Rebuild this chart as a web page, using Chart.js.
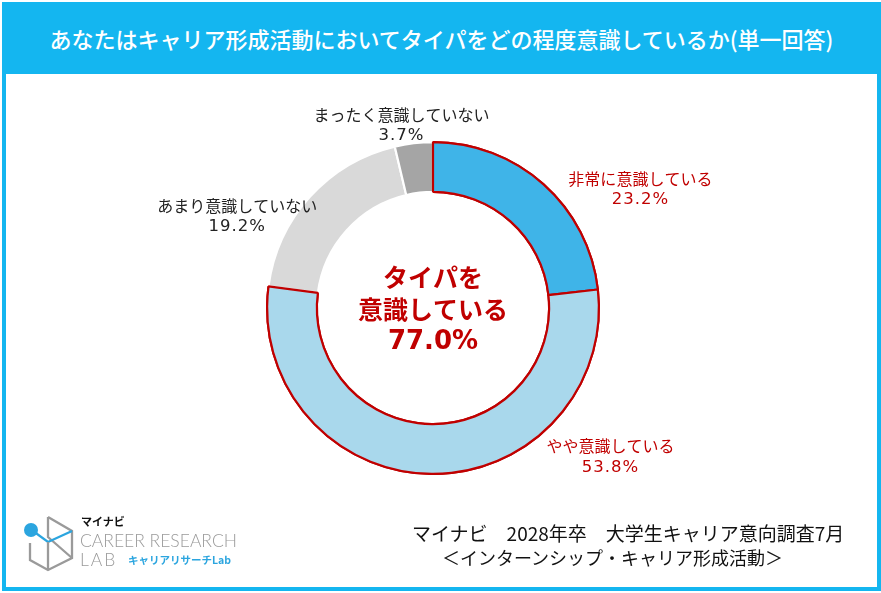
<!DOCTYPE html>
<html lang="ja">
<head>
<meta charset="utf-8">
<script src="https://cdn.jsdelivr.net/npm/chart.js@4.4.1/dist/chart.umd.min.js"></script>
<style>
  html, body { margin: 0; padding: 0; background: #fff; }
  body { width: 881px; height: 593px; position: relative; overflow: hidden;
         font-family: "Noto Sans CJK JP", "Noto Sans", sans-serif; }
  #frame { position: absolute; left: 2px; top: 2px; width: 871px; height: 581px;
           border: 4px solid #14B6F0; box-sizing: content-box; }
  #header { position: absolute; left: 2px; top: 2px; width: 879px; height: 72px;
            background: #14B6F0; color: #fff; font-size: 22px; font-weight: 500;
            text-align: center; line-height: 72px; }
  #chart { position: absolute; left: 0; top: 0; }
  #source { position: absolute; left: 400px; top: 520px; width: 470px;
            color: #111; line-height: 25px; }
  #source div:first-child { padding-left: 12px; font-size: 19px; }
  #source div:last-child { padding-left: 42px; font-size: 18px; }
  #logo { position: absolute; left: 22px; top: 513px; }
</style>
</head>
<body>
<div id="frame"></div>
<div id="header">あなたはキャリア形成活動においてタイパをどの程度意識しているか(単一回答)</div>
<canvas id="chart" width="881" height="593"></canvas>
<svg id="logo" width="230" height="60" viewBox="0 0 230 60">
  <g fill="none" stroke-width="2.3">
    <path d="M26 4 L50 18 L50 45 L26 57 L8 47 L8 30" stroke="#9a9a9a"/>
    <path d="M26 4 L26 24 L50 45" stroke="#9a9a9a"/>
    <path d="M11 18 L26 29 L50 18" stroke="#2BA5DF"/>
    <path d="M26 29 L26 57" stroke="#9a9a9a"/>
  </g>
  <circle cx="9" cy="17" r="7" fill="#2BA5DF"/>
  <text x="59" y="13" font-size="11" font-weight="bold" fill="#111">マイナビ</text>
  <text x="58" y="34" font-size="17.5" font-family="Lato, sans-serif" font-weight="300" fill="#9a9a9a">CAREER RESEARCH</text>
  <text x="58" y="53" font-size="17.5" font-family="Lato, sans-serif" font-weight="300" fill="#9a9a9a" letter-spacing="2">LAB</text>
  <text x="106" y="51" font-size="10.5" font-weight="bold" fill="#2BA5DF">キャリアリサーチLab</text>
</svg>
<div id="source">
  <div>マイナビ　2028年卒　大学生キャリア意向調査7月</div>
  <div>＜インターンシップ・キャリア形成活動＞</div>
</div>
<script>
// answers and shares (%)
const categories = ["非常に意識している", "やや意識している", "あまり意識していない", "まったく意識していない"];
const shares = [23.2, 53.8, 19.2, 3.7];
const centerLines = ["タイパを", "意識している", "77.0%"];

const fills = ["#3FB4E8", "#A9D8EC", "#D9D9D9", "#A5A5A5"];
const edges = ["#C00000", "#C00000", "#FFFFFF", "#FFFFFF"];
const labelColors = ["#C00000", "#C00000", "#222222", "#222222"];
// where each label sits, relative to the ring centre, in outer radii
const labelPos = [[1.25, -0.71], [1.07, 0.90], [-1.18, -0.55], [-0.19, -1.10]];

const ringLabels = {
    id: "ringLabels",
    afterDatasetsDraw(chart) {
        const ctx = chart.ctx;
        const meta = chart.getDatasetMeta(0);
        // redraw the red outlined slices so their edges stay on top
        [0, 1].forEach(i => meta.data[i].draw(ctx));

        const arc0 = meta.data[0];
        const cx = arc0.x, cy = arc0.y, r = arc0.outerRadius;
        ctx.save();
        ctx.textAlign = "center";
        ctx.textBaseline = "middle";
        meta.data.forEach((arc, i) => {
            const x = cx + labelPos[i][0] * r;
            const y = cy + labelPos[i][1] * r;
            ctx.fillStyle = labelColors[i];
            ctx.letterSpacing = "0px";
            ctx.font = '16px "Noto Sans CJK JP", sans-serif';
            ctx.fillText(categories[i], x, y - 11);
            ctx.letterSpacing = "1px";
            ctx.font = '16.5px "DejaVu Sans", sans-serif';
            ctx.fillText(shares[i].toFixed(1) + "%", x, y + 10);
        });

        ctx.letterSpacing = "0px";
        ctx.fillStyle = "#C00000";
        ctx.font = 'bold 25px "Noto Sans CJK JP", sans-serif';
        ctx.fillText(centerLines[0], cx, cy - 31);
        ctx.fillText(centerLines[1], cx, cy + 1);
        ctx.font = 'bold 26px "DejaVu Sans", sans-serif';
        ctx.fillText(centerLines[2], cx, cy + 34);
        ctx.restore();
    }
};

new Chart(document.getElementById("chart"), {
    type: "doughnut",
    data: {
        labels: categories,
        datasets: [{
            data: shares,
            backgroundColor: fills,
            borderColor: edges,
            borderWidth: 2.2
        }]
    },
    options: {
        responsive: false,
        animation: false,
        cutout: "70%",
        layout: { padding: { left: 266, right: 281, top: 141, bottom: 118 } },
        plugins: { legend: { display: false }, tooltip: { enabled: false } }
    },
    plugins: [ringLabels]
});
</script>
</body>
</html>
